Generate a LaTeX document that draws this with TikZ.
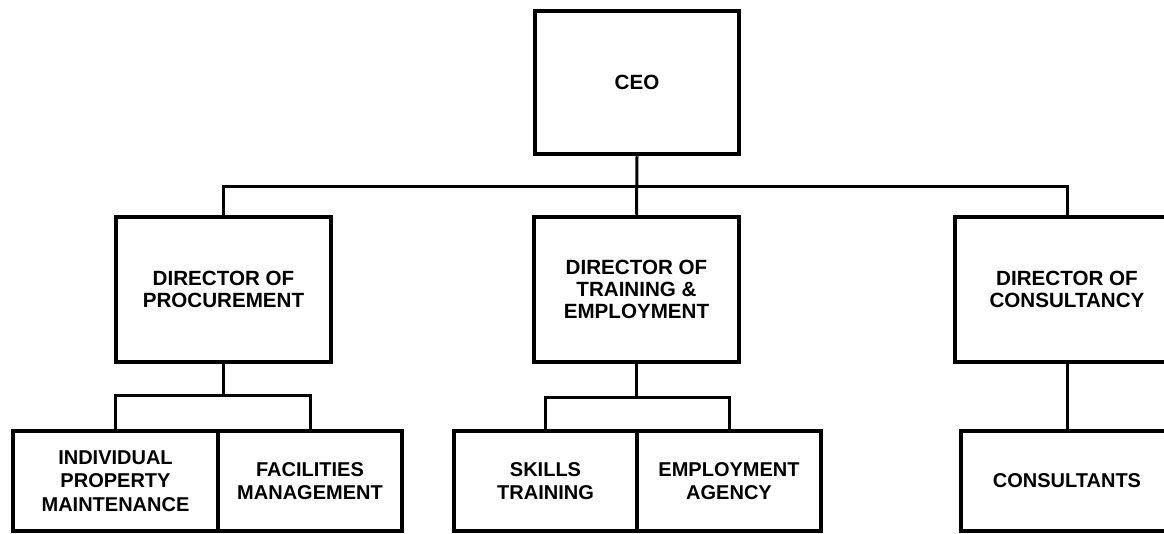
\documentclass[tikz,border=0pt]{standalone}
\usepackage{fontspec}
\setmainfont{Liberation Sans}
\begin{document}
\begin{tikzpicture}[x=1pt,y=-1pt,
  box/.style={draw=black,line width=4.5pt,rectangle,inner sep=0pt,align=center,
    font=\fontsize{20.6}{22}\selectfont\bfseries},
  lowbox/.style={box,font=\fontsize{20}{23.5}\selectfont\bfseries,minimum height=100pt},
  link/.style={draw=black,line width=3pt}]
\useasboundingbox (0,0) rectangle (1164,533);
\fill[white] (0,0) rectangle (1164,533);
\coordinate (bus) at (637,186);
\coordinate (pbus) at (223.5,395);
\coordinate (tbus) at (636.5,397);
\node[box,minimum width=204pt,minimum height=143pt] (ceo) at (637,82.5) {CEO};
\node[box,minimum width=215pt,minimum height=145pt] (proc) at (223.5,289.5) {DIRECTOR OF\\PROCUREMENT};
\node[box,minimum width=205pt,minimum height=145pt] (train) at (636.5,289.5) {DIRECTOR OF\\TRAINING \&\\EMPLOYMENT};
\node[box,minimum width=224pt,minimum height=145pt] (cons) at (1067,289.5) {DIRECTOR OF\\CONSULTANCY};
\node[lowbox,minimum width=205pt] (ipm) at (115.5,481) {INDIVIDUAL\\PROPERTY\\MAINTENANCE};
\node[lowbox,minimum width=184pt] (fm) at (310,481) {FACILITIES\\MANAGEMENT};
\node[lowbox,minimum width=183pt] (st) at (545.5,481) {SKILLS\\TRAINING};
\node[lowbox,minimum width=184pt] (ea) at (729,481) {EMPLOYMENT\\AGENCY};
\node[lowbox,minimum width=212pt] (cst) at (1067,481) {CONSULTANTS};
\draw[link] (ceo.south) -- (train.north);
\draw[link] (proc.north) |- (bus) -| (cons.north);
\draw[link] (proc.south) -- (pbus);
\draw[link] (ipm.north) |- (pbus) -| (fm.north);
\draw[link] (train.south) -- (tbus);
\draw[link] (st.north) |- (tbus) -| (ea.north);
\draw[link] (cons.south) -- (cst.north);
\end{tikzpicture}
\end{document}
